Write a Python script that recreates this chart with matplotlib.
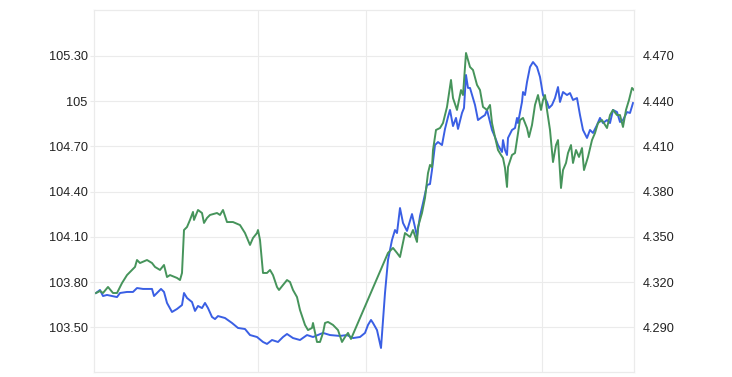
import matplotlib
matplotlib.use("Agg")
import matplotlib.pyplot as plt

plt.rcParams['font.family'] = ['Liberation Sans', 'DejaVu Sans']

# time steps (shared x scale, no labels on the chart)
blue_t = [2, 6, 9, 13, 23, 26, 33, 39, 43, 49, 58, 60, 63, 67, 70, 73, 78, 83, 88, 90,
          93, 98, 101, 104, 108, 111, 114, 118, 121, 124, 131, 138, 144, 151, 156, 163,
          169, 173, 178, 184, 189, 193, 199, 206, 213, 219, 229, 236, 246, 253, 259, 266,
          271, 274, 277, 279, 283, 287, 289, 291, 294, 298, 301, 303, 306, 309, 313, 318,
          321, 323, 326, 329, 333, 336, 338, 341, 344, 348, 351, 354, 356, 359, 362, 364,
          368, 370, 372, 374, 376, 379, 381, 384, 388, 391, 393, 396, 398, 401, 404, 408,
          409, 411, 413, 414, 418, 421, 423, 424, 428, 429, 431, 433, 436, 439, 443, 446,
          449, 453, 455, 458, 461, 464, 466, 469, 473, 476, 479, 483, 486, 489, 493, 496,
          499, 503, 506, 509, 513, 516, 519, 523, 526, 529, 533, 536, 539]
blue_v = [103.727, 103.747, 103.707, 103.714, 103.700, 103.727, 103.734, 103.734, 103.760,
          103.754, 103.754, 103.707, 103.727, 103.754, 103.734, 103.661, 103.601, 103.621,
          103.647, 103.727, 103.694, 103.667, 103.608, 103.641, 103.627, 103.661, 103.627,
          103.568, 103.554, 103.574, 103.561, 103.528, 103.495, 103.488, 103.448, 103.435,
          103.402, 103.389, 103.415, 103.402, 103.435, 103.455, 103.428, 103.415, 103.448,
          103.435, 103.462, 103.448, 103.442, 103.448, 103.428, 103.435, 103.462, 103.515,
          103.548, 103.528, 103.481, 103.362, 103.548, 103.727, 103.946, 104.079, 104.145,
          104.125, 104.291, 104.192, 104.139, 104.251, 104.165, 104.105, 104.238, 104.324,
          104.444, 104.450, 104.543, 104.709, 104.729, 104.709, 104.816, 104.895, 104.942,
          104.835, 104.889, 104.816, 104.922, 104.955, 105.174, 105.088, 105.088, 105.021,
          104.975, 104.875, 104.895, 104.908, 104.942, 104.862, 104.809, 104.762, 104.709,
          104.663, 104.742, 104.676, 104.643, 104.756, 104.809, 104.822, 104.889, 104.855,
          104.995, 105.061, 105.041, 105.127, 105.227, 105.260, 105.227, 105.161, 105.041,
          104.995, 104.955, 104.975, 105.021, 105.094, 104.995, 105.061, 105.041, 105.054,
          105.008, 105.021, 104.908, 104.809, 104.756, 104.809, 104.789, 104.842, 104.889,
          104.855, 104.875, 104.855, 104.942, 104.928, 104.862, 104.875, 104.928, 104.922,
          104.988]

green_t = [2, 6, 9, 14, 19, 23, 28, 33, 38, 41, 43, 46, 53, 58, 61, 66, 70, 73, 76, 83,
           86, 88, 90, 93, 96, 99, 100, 104, 108, 110, 113, 116, 123, 126, 129, 133, 139,
           146, 151, 156, 159, 163, 164, 166, 169, 173, 176, 179, 183, 185, 189, 193, 196,
           199, 203, 206, 211, 214, 218, 219, 223, 226, 229, 231, 234, 239, 244, 248, 251,
           254, 257, 294, 299, 303, 306, 311, 316, 319, 323, 324, 328, 331, 334, 336, 338,
           339, 342, 346, 349, 353, 357, 359, 363, 364, 367, 369, 372, 376, 379, 383, 386,
           389, 393, 396, 398, 401, 404, 407, 409, 411, 413, 414, 418, 421, 423, 426, 429,
           433, 435, 438, 441, 444, 447, 449, 451, 453, 456, 459, 462, 464, 467, 469, 472,
           474, 477, 479, 482, 485, 488, 490, 494, 498, 501, 504, 508, 513, 516, 519, 523,
           526, 529, 532, 535, 538, 540]
green_v = [4.3127, 4.3140, 4.3127, 4.3167, 4.3127, 4.3127, 4.3193, 4.3246, 4.3280, 4.3300,
           4.3346, 4.3326, 4.3346, 4.3326, 4.3300, 4.3280, 4.3313, 4.3233, 4.3246, 4.3227,
           4.3213, 4.3260, 4.3545, 4.3565, 4.3612, 4.3665, 4.3612, 4.3678, 4.3658, 4.3592,
           4.3625, 4.3645, 4.3658, 4.3645, 4.3678, 4.3598, 4.3598, 4.3578, 4.3525, 4.3446,
           4.3492, 4.3525, 4.3545, 4.3479, 4.3260, 4.3260, 4.3280, 4.3246, 4.3167, 4.3147,
           4.3180, 4.3213, 4.3200, 4.3147, 4.3100, 4.3014, 4.2915, 4.2881, 4.2895, 4.2928,
           4.2802, 4.2802, 4.2862, 4.2928, 4.2935, 4.2915, 4.2881, 4.2802, 4.2835, 4.2862,
           4.2822, 4.3393, 4.3426, 4.3393, 4.3366, 4.3525, 4.3499, 4.3545, 4.3466, 4.3565,
           4.3658, 4.3758, 4.3923, 4.3977, 4.3963, 4.4076, 4.4209, 4.4222, 4.4255, 4.4362,
           4.4541, 4.4421, 4.4342, 4.4375, 4.4474, 4.4441, 4.4720, 4.4627, 4.4607, 4.4508,
           4.4474, 4.4362, 4.4342, 4.4375, 4.4255, 4.4162, 4.4076, 4.4043, 4.4023, 4.3957,
           4.3831, 4.3963, 4.4043, 4.4056, 4.4142, 4.4275, 4.4289, 4.4222, 4.4162, 4.4242,
           4.4375, 4.4441, 4.4342, 4.4408, 4.4441, 4.4342, 4.4209, 4.3996, 4.4109, 4.4142,
           4.3824, 4.3943, 4.3990, 4.4056, 4.4109, 4.3990, 4.4076, 4.4030, 4.4089, 4.3943,
           4.4030, 4.4142, 4.4189, 4.4255, 4.4275, 4.4222, 4.4308, 4.4342, 4.4308, 4.4308,
           4.4229, 4.4342, 4.4408, 4.4488, 4.4474]

left_ticks = [103.50, 103.80, 104.10, 104.40, 104.70, 105.00, 105.30]
left_labels = ['103.50', '103.80', '104.10', '104.40', '104.70', '105', '105.30']
right_ticks = [4.290, 4.320, 4.350, 4.380, 4.410, 4.440, 4.470]
right_labels = ['4.290', '4.320', '4.350', '4.380', '4.410', '4.440', '4.470']
day_breaks = [164, 272, 448]

grid_col = '#ebebeb'
text_col = '#222222'

fig = plt.figure(figsize=(7.32, 3.77), dpi=100)
ax = fig.add_axes([94 / 732, 5 / 377, 540 / 732, 362 / 377])
ax2 = ax.twinx()

ax.set_xlim(0, 540)
ax.set_ylim(103.2027, 105.6053)
ax2.set_ylim(4.26027, 4.50053)

for y in left_ticks:
    ax.axhline(y, color=grid_col, lw=0.8, zorder=0)
for x in day_breaks:
    ax.axvline(x, color=grid_col, lw=0.8, zorder=0)

ax.plot(blue_t, blue_v, color='#3a5fe4', lw=1.4, solid_joinstyle='round')
ax2.plot(green_t, green_v, color='#46945b', lw=1.4, solid_joinstyle='round')

ax.set_xticks([])
ax.set_yticks(left_ticks)
ax.set_yticklabels(left_labels)
ax2.set_yticks(right_ticks)
ax2.set_yticklabels(right_labels)
ax.tick_params(axis='y', length=3, width=0.8, color=grid_col, pad=1.5,
               labelsize=9.2, labelcolor=text_col)
ax2.tick_params(axis='y', length=0, pad=6, labelsize=9.2, labelcolor=text_col)

for a in (ax, ax2):
    for s in a.spines.values():
        s.set_color(grid_col)
        s.set_linewidth(0.8)

fig.savefig('out.png', dpi=100, facecolor='white')
